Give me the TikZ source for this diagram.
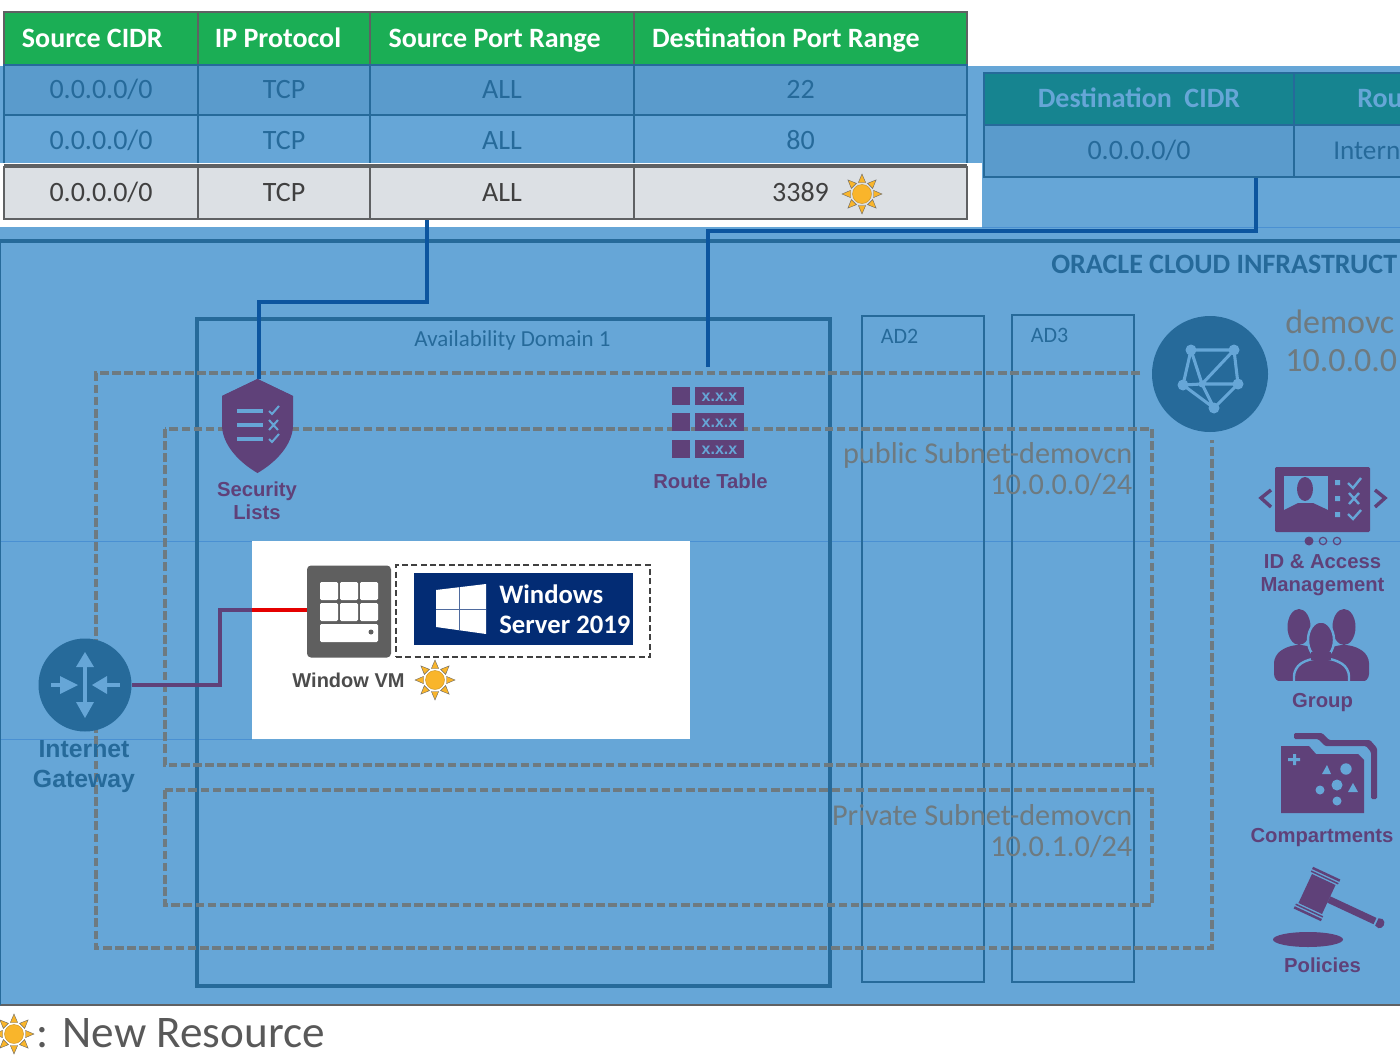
\documentclass[tikz,border=0pt]{standalone}
\usepackage{fontspec}
\setmainfont{Carlito}
\newfontfamily\labelfont{Liberation Sans}
\usetikzlibrary{arrows.meta}
\definecolor{skyfill}{HTML}{66A6D7}
\definecolor{rowfill}{HTML}{5A9BCC}
\definecolor{deepblue}{HTML}{266A9A}
\definecolor{wireblue}{HTML}{0C559F}
\definecolor{thinblue}{HTML}{4A90D2}
\definecolor{plum}{HTML}{5F4179}
\definecolor{dashgray}{HTML}{6E7A80}
\definecolor{cellgray}{HTML}{DCE0E4}
\definecolor{rulegray}{HTML}{5F6163}
\definecolor{headgreen}{HTML}{1BAE55}
\definecolor{headteal}{HTML}{168490}
\definecolor{sunfill}{HTML}{F9B52B}
\definecolor{winblue}{HTML}{032C74}
\definecolor{vmgray}{HTML}{5F5F5F}
\tikzstyle{cell}=[draw=rulegray, line width=1.7pt, inner sep=0pt, text height=13pt, text depth=0pt, font=\fontsize{21}{24}\selectfont]
\tikzstyle{headcell}=[cell, fill=headgreen, text=white, font=\fontsize{21}{24}\selectfont\bfseries]
\tikzstyle{bluecell}=[cell, draw=deepblue, fill=rowfill, text=deepblue, line width=1.6pt]
\tikzstyle{graycell}=[cell, fill=cellgray, text=black!75]
\tikzstyle{tealcell}=[bluecell, fill=headteal, text=skyfill, font=\fontsize{21}{24}\selectfont\bfseries]
\tikzstyle{wire}=[draw=wireblue, line width=2.7pt]
\tikzstyle{plumwire}=[draw=plum, line width=2.7pt]
\tikzstyle{subnet}=[draw=dashgray, line width=2.4pt, dash pattern=on 6.5pt off 2.6pt]
\tikzstyle{adbox}=[draw=deepblue, line width=1.4pt]
\tikzstyle{iconlabel}=[text=plum, align=center, font=\labelfont\fontsize{15.2}{17.5}\selectfont\bfseries]
\tikzstyle{subnetlabel}=[text=dashgray, align=right, anchor=east, font=\fontsize{22.7}{24}\selectfont]
\tikzstyle{iconbox}=[inner sep=0pt, minimum width=1pt, minimum height=1pt]
\tikzset{
  sun/.pic={
    \foreach \a in {0,45,...,315}
      \fill[sunfill, draw=black!60, line width=.3pt, rotate=\a] (11.5,-3.6) -- (20,0) -- (11.5,3.6) -- cycle;
    \fill[sunfill, draw=sunfill!80!black, line width=.3pt] (0,0) circle [radius=9.5];
  },
  person/.pic={
    \fill (0,-25) ellipse [x radius=11.5, y radius=18];
    \path[fill, rounded corners=6pt] (-25,30) -- (-25,3) -- (-9,-7) -- (9,-7) -- (25,3) -- (25,30) -- cycle;
  }
}
\newcommand{\tabcell}[6]{\node (#1) [#2, minimum width=#4*.75pt, minimum height=#5*.75pt] at #3 {#6};}
\begin{document}
\begin{tikzpicture}[x=.75pt,y=-.75pt]
  \useasboundingbox (0,0) rectangle (1400,1063);
  \clip (0,0) rectangle (1400,1063);

  % Draw backdrop
  \fill[skyfill] (0,66) rectangle (1400,163);
  \fill[skyfill] (982,163) rectangle (1400,227);
  \fill[skyfill] (0,227) rectangle (1400,1005);
  \draw[thinblue, line width=.5pt] (982,227) -- (1400,227);
  \draw[thinblue, line width=.5pt] (0,541) -- (1400,541);
  \draw[thinblue, line width=.5pt] (0,739) -- (252,739);
  \draw[deepblue, line width=2.5pt] (-5,241) -- (1405,241);
  \draw[rulegray, line width=2.2pt] (-5,1005) -- (1405,1005);
  \draw[deepblue, line width=1pt] (0,241) -- (0,1005);

  % Draw the security list table
  \tabcell{hcidr}{headcell}{(101,38.5)}{194}{53}{\hspace*{-13pt}Source CIDR}
  \tabcell{hproto}{headcell}{(284,38.5)}{172}{53}{\hspace*{-9pt}IP Protocol}
  \tabcell{hsport}{headcell}{(502,38.5)}{264}{53}{\hspace*{-11pt}Source Port Range}
  \tabcell{hdport}{headcell}{(800.5,38.5)}{333}{53}{\hspace*{-22pt}Destination Port Range}
  \tabcell{aa}{bluecell}{(101,90)}{194}{50}{0.0.0.0/0}
  \tabcell{ab}{bluecell}{(284,90)}{172}{50}{TCP}
  \tabcell{ac}{bluecell}{(502,90)}{264}{50}{ALL}
  \tabcell{ad}{bluecell}{(800.5,90)}{333}{50}{22}
  \tabcell{ba}{bluecell, fill=skyfill}{(101,141)}{194}{52}{0.0.0.0/0}
  \tabcell{bb}{bluecell, fill=skyfill}{(284,141)}{172}{52}{TCP}
  \tabcell{bc}{bluecell, fill=skyfill}{(502,141)}{264}{52}{ALL}
  \tabcell{bd}{bluecell, fill=skyfill}{(800.5,141)}{333}{52}{80}
  \fill[white] (0,163) rectangle (982,227);
  \draw[rulegray, line width=1.7pt] (4,165) -- (967,165);
  \tabcell{ca}{graycell}{(101,193)}{194}{52}{0.0.0.0/0}
  \tabcell{cb}{graycell}{(284,193)}{172}{52}{TCP}
  \tabcell{cc}{graycell}{(502,193)}{264}{52}{ALL}
  \tabcell{cd}{graycell}{(800.5,193)}{333}{52}{3389}
  \draw[deepblue, line width=1.6pt] (4,65) -- (4,163) (198,65) -- (198,163) (370,65) -- (370,163) (634,65) -- (634,163) (967,65) -- (967,163);
  \pic at (862,194) {sun};

  % Draw the route rule table
  \tabcell{hdest}{tealcell}{(1139,99)}{310}{52}{Destination\ \ CIDR}
  \tabcell{hroute}{tealcell}{(1400,99)}{212}{52}{}
  \tabcell{rdest}{bluecell}{(1139,151)}{310}{52}{0.0.0.0/0}
  \tabcell{rroute}{bluecell}{(1400,151)}{212}{52}{}
  \node[anchor=west, inner sep=0pt, text=skyfill, font=\fontsize{21}{24}\selectfont\bfseries] (hroutename) at (1357,99) {Rou};
  \node[anchor=west, inner sep=0pt, text=deepblue, font=\fontsize{20.4}{24}\selectfont] (rroutename) at (1333,151) {Intern};

  % Draw frames
  \node[anchor=west, inner sep=0pt, text=deepblue, font=\fontsize{21}{24}\selectfont\bfseries] (oci) at (1051,264) {ORACLE CLOUD INFRASTRUCT};
  \node (ad1) [adbox, line width=2.4pt, minimum width=633*.75pt, minimum height=667*.75pt] at (513.5,652.5) {};
  \node (ad2) [adbox, minimum width=122*.75pt, minimum height=666*.75pt] at (923,649) {};
  \node (ad3) [adbox, minimum width=122*.75pt, minimum height=667*.75pt] at (1073,648.5) {};
  \node[text=deepblue, font=\fontsize{17.2}{18}\selectfont] (ad1name) at (512.5,340) {Availability Domain 1};
  \node[text=deepblue, font=\fontsize{16.5}{18}\selectfont] (ad2name) at (899.5,336.5) {AD2};
  \node[text=deepblue, font=\fontsize{16.5}{18}\selectfont] (ad3name) at (1049.5,335.5) {AD3};
  \draw[subnet] (1140,373) -- (96,373) -- (96,948) -- (1212,948) -- (1212,440);
  \draw[subnet] (165,429) rectangle (1152,765);
  \draw[subnet] (165,790) rectangle (1152,905);
  \node[subnetlabel] (pubname) at (1137,455) {public Subnet-demovcn};
  \node[subnetlabel] (pubcidr) at (1137,485) {10.0.0.0/24};
  \node[subnetlabel] (privname) at (1137,815) {Private Subnet-demovcn};
  \node[subnetlabel] (privcidr) at (1137,847) {10.0.1.0/24};

  % Draw VCN badge
  \node (vcn) [circle, fill=deepblue, minimum size=116*.75pt, inner sep=0pt] at (1210,374) {};
  \draw[skyfill, line width=2.3pt, line join=round] (1191,350) -- (1234,350) -- (1238,384) -- (1214,408) -- (1183,385) -- cycle
    (1191,350) -- (1202,384) -- (1234,350) (1183,385) -- (1202,384) -- (1238,384) (1202,384) -- (1214,408);
  \foreach \p in {(1191,350),(1234,350),(1238,384),(1214,408),(1183,385)}
    \fill[skyfill] \p circle [radius=5.5];
  \fill[skyfill] (1202,384) circle [radius=3.5];
  \node[anchor=west, inner sep=0pt, text=dashgray, font=\fontsize{25.5}{28}\selectfont] (vcnname) at (1285,322) {demovc};
  \node[anchor=west, inner sep=0pt, text=dashgray, font=\fontsize{25.5}{28}\selectfont] (vcncidr) at (1285,361) {10.0.0.0};

  % Draw security list icon
  \node (seclist) [iconbox, minimum width=71*.75pt, minimum height=94*.75pt] at (259,426) {};
  \fill[plum] (257.5,379) -- (293,396) -- (293,425) .. controls (293,445) and (275,463) .. (257.5,473)
    .. controls (240,463) and (222,445) .. (222,425) -- (222,396) -- cycle;
  \draw[skyfill, line width=2.4pt] (237,411) -- (263,411) (237,425) -- (263,425) (237,439) -- (263,439);
  \draw[skyfill, line width=1.5pt] (269,411) -- (272,414) -- (279,406) (269,420) -- (278,430) (278,420) -- (269,430) (269,439) -- (272,442) -- (279,434);
  \node[iconlabel] (seclabel) at (257,501) {Security\\Lists};

  % Draw route table icon
  \node (rtable) [iconbox, minimum width=72*.75pt, minimum height=71*.75pt] at (708,422.5) {};
  \foreach \y in {387,413,440} {
    \fill[plum] (672,\y) rectangle +(18,18);
    \fill[plum] (695,\y) rectangle +(49,18);
    \node[text=skyfill, font=\labelfont\fontsize{12}{13}\selectfont\bfseries, inner sep=0pt] at (719.5,\y+10) {x.x.x};
  }
  \node[iconlabel] (rtlabel) at (710.5,481) {Route Table};

  % Draw wires
  \path (cc.south west)+(58,0) coordinate (tapsec);
  \path (rdest.south west)+(273,0) coordinate (taprt);
  \path (rtable.north)+(0,-20) coordinate (rttop);
  \path [wire] (tapsec) -- (tapsec |- 0,302) -- (seclist.north |- 0,302) -- (seclist.north);
  \path [wire] (taprt) -- (taprt |- 0,231) -- (rttop |- 0,231) -- (rttop);
  \fill[plum] (257.5,379) -- (293,396) -- (222,396) -- cycle;

  % Draw VM panel
  \fill[white] (252,541) rectangle (690,739);
  \coordinate (vmport) at (252,610);
  \node (vm) [fill=vmgray, rounded corners=3pt, minimum width=84*.75pt, minimum height=92*.75pt, inner sep=0pt] at (349,611.5) {};
  \foreach \x in {320,340,360}
    \foreach \y in {582,603}
      \fill[white, rounded corners=1pt] (\x,\y) rectangle +(18,18);
  \fill[white, rounded corners=1pt] (320,624) rectangle (378,642);
  \fill[vmgray] (371,632) circle [radius=2.5];
  \node (osbox) [draw=black!75, line width=1.6pt, dash pattern=on 4.5pt off 2.5pt, minimum width=254*.75pt, minimum height=92*.75pt, inner sep=0pt] at (523,611) {};
  \node (winbanner) [fill=winblue, minimum width=219*.75pt, minimum height=72*.75pt, inner sep=0pt] at (523.5,609) {};
  \fill[white] (436,590) -- (486,584) -- (486,634) -- (436,627) -- cycle;
  \draw[winblue!70!white, line width=.6pt] (459,587) -- (459,631) (436,609) -- (486,609);
  \node[anchor=west, text=white, inner sep=0pt, align=left, font=\fontsize{20}{22.5}\selectfont\bfseries] (winname) at (499,609) {Windows\\Server 2019};
  \node[text=black!70, font=\labelfont\fontsize{15}{17}\selectfont\bfseries] (vmlabel) at (348.5,680) {Window VM};
  \pic at (435,680) {sun};

  % Draw internet gateway
  \node (igw) [circle, fill=deepblue, minimum size=93*.75pt, inner sep=0pt] at (85,685) {};
  \draw[skyfill, line width=3.2pt] (85,665) -- (85,705) (51,685) -- (64,685) (106,685) -- (120,685);
  \fill[skyfill] (76,667) -- (85,652) -- (94,667) -- cycle (76,702) -- (85,718) -- (94,702) -- cycle
    (60,676) -- (78,685) -- (60,694) -- cycle (107,676) -- (92,685) -- (107,694) -- cycle;
  \node[align=center, text=deepblue, font=\labelfont\fontsize{18.6}{22.5}\selectfont\bfseries] (igwlabel) at (84,767) {Internet\\Gateway};
  \path [plumwire] (igw.east) -- (220,685) -- (220,610) -- (vmport);
  \draw[red!90!black, line width=2.7pt] (vmport) -- (vmport -| vm.west);

  % Draw IAM icon
  \node (iam) [fill=plum, rounded corners=1pt, minimum width=95*.75pt, minimum height=65*.75pt, inner sep=0pt] at (1322.5,499.5) {};
  \fill[skyfill] (1284,476) rectangle (1328,516);
  \begin{scope}
    \clip (1284,476) rectangle (1328,516);
    \fill[plum] (1305,489) ellipse [x radius=8, y radius=12];
    \fill[plum] (1284,516) -- (1284,510) -- (1298,503) -- (1313,503) -- (1328,510) -- (1328,516) -- cycle;
  \end{scope}
  \fill[skyfill] (1335,480) rectangle +(5,5) (1335,496) rectangle +(5,5) (1335,512) rectangle +(5,5);
  \draw[skyfill, line width=1.8pt] (1348,483) -- (1353,488) -- (1361,478) (1349,493) -- (1359,504) (1359,493) -- (1349,504) (1348,514) -- (1353,519) -- (1361,510);
  \draw[plum, line width=2.6pt] (1271,490) -- (1261,498) -- (1271,507) (1375,490) -- (1385,498) -- (1375,507);
  \fill[plum] (1309,541) circle [radius=4.5];
  \draw[plum, line width=.9pt] (1323,541) circle [radius=3.7] (1337,541) circle [radius=3.7];
  \node[iconlabel] (iamlabel) at (1322.5,575) {ID \& Access\\Management};

  % Draw group icon
  \node (group) [iconbox, minimum width=97*.75pt, minimum height=71*.75pt] at (1321.5,644.5) {};
  \begin{scope}[plum]
    \pic at (1299,652) {person};
    \pic at (1344,652) {person};
  \end{scope}
  \fill[plum, draw=skyfill, line width=1.8pt] (1321,640) ellipse [x radius=13, y radius=18.5];
  \path[fill=plum, draw=skyfill, line width=1.8pt, rounded corners=6pt] (1294,690) -- (1294,668) -- (1309,658.5) -- (1333,658.5) -- (1349,668) -- (1349,690) -- cycle;
  \fill[plum] (1311,652) rectangle (1331,660);
  \fill[skyfill] (1270,680.5) rectangle (1375,695);
  \node[iconlabel] (grouplabel) at (1322.5,703) {Group};

  % Draw compartments icon
  \node (compart) [iconbox, minimum width=96*.75pt, minimum height=80*.75pt] at (1329,773) {};
  \fill[plum, rounded corners=1pt] (1294,733) -- (1322,733) -- (1329,740) -- (1370,740) -- (1377,748) -- (1377,799) -- (1371,799) -- (1371,752) -- (1366,746) -- (1325,746) -- (1318,739) -- (1294,739) -- cycle;
  \fill[plum] (1281,746) -- (1309,746) -- (1316,754) -- (1358,754) -- (1364,760) -- (1364,813) -- (1281,813) -- cycle;
  \fill[skyfill] (1293,754) rectangle +(3,11) (1288,758) rectangle +(12,3);
  \fill[skyfill] (1320,790) circle [radius=4.5] (1337,785) circle [radius=5.5] (1337,801) circle [radius=4.5] (1346,769) circle [radius=5.7];
  \fill[skyfill] (1322,774) -- (1327,765) -- (1331,774) -- cycle (1348,792) -- (1353,783) -- (1358,792) -- cycle;
  \node[iconlabel] (compartlabel) at (1322,838) {Compartments};

  % Draw policies icon
  \node (policy) [iconbox, minimum width=126*.75pt, minimum height=81*.75pt] at (1336,907) {};
  \begin{scope}[shift={(1317,894)}, rotate=-25, plum]
    \fill (-13,-16) rectangle (13,16);
    \fill (-15,-23) rectangle (15,-20.5) (-15,-19) rectangle (15,-17.5);
    \fill (-15,20.5) rectangle (15,23) (-15,17.5) rectangle (15,19);
    \fill (13,-3.5) rectangle (64,3.5);
    \fill (66,-4) -- (70,-5) .. controls (75,-4) and (75,4) .. (70,5) -- (66,4) -- cycle;
  \end{scope}
  \fill[plum] (1308,939.5) ellipse [x radius=35, y radius=7.5];
  \node[iconlabel] (policylabel) at (1322.5,965) {Policies};

  % Draw legend
  \pic at (14,1034) {sun};
  \node[anchor=west, text=black!65, inner sep=0pt, font=\fontsize{33.9}{36}\selectfont] (legend) at (36.5,1033) {: New Resource};
\end{tikzpicture}
\end{document}
